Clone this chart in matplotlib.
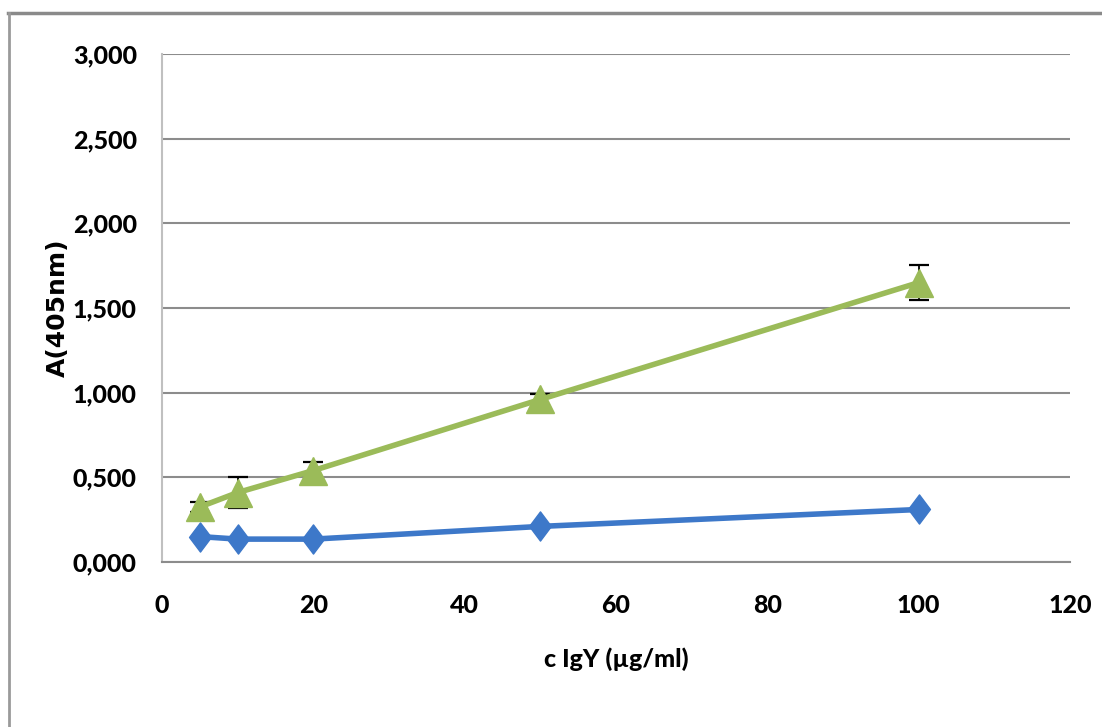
import matplotlib.pyplot as plt
from matplotlib.lines import Line2D
from matplotlib.path import Path
from matplotlib.ticker import FuncFormatter

# concentration of IgY (ug/ml)
conc = [5, 10, 20, 50, 100]
# absorbance, control (blue) and specific (green)
a_blue = [0.150, 0.135, 0.135, 0.210, 0.310]
a_green = [0.325, 0.410, 0.540, 0.960, 1.650]
err_green = [0.030, 0.090, 0.050, 0.030, 0.105]

x_ticks = [0, 20, 40, 60, 80, 100, 120]
y_ticks = [0, 0.5, 1.0, 1.5, 2.0, 2.5, 3.0]

blue = "#3d78c9"
green = "#9bbb59"
grid = "#8c8c8c"
tick_font = ["Lato", "DejaVu Sans"]

fig = plt.figure(figsize=(11.02, 7.27), dpi=100)
ax = fig.add_axes([0.147, 0.227, 0.824, 0.6987])

diamond = Path([(0, 1), (0.75, 0), (0, -1), (-0.75, 0), (0, 1)],
               [Path.MOVETO, Path.LINETO, Path.LINETO, Path.LINETO, Path.CLOSEPOLY])

ax.plot(conc, a_blue, color=blue, lw=4, marker=diamond, ms=21,
        mec=blue, mfc=blue, zorder=3)
ax.errorbar(conc, a_green, yerr=err_green, color=green, lw=4, marker="^",
            ms=20, mec=green, mfc=green, ecolor="black", elinewidth=1.3,
            capsize=7, capthick=1.6, zorder=4)

ax.set_xlim(0, 120)
ax.set_ylim(0, 3.0)
ax.set_xticks(x_ticks)
ax.set_yticks(y_ticks)
ax.yaxis.set_major_formatter(FuncFormatter(lambda v, p: ("%.3f" % v).replace(".", ",")))
ax.yaxis.grid(True, color=grid, lw=1.5)
ax.set_axisbelow(True)
ax.tick_params(axis="y", length=0, pad=18)
ax.tick_params(axis="x", length=0, pad=23)
for lab in ax.get_xticklabels() + ax.get_yticklabels():
    lab.set_family(tick_font)
    lab.set_fontsize(18)
    lab.set_fontweight("black")

for s in ["top", "right"]:
    ax.spines[s].set_visible(False)
ax.spines["left"].set_color("#c0c0c0")
ax.spines["left"].set_linewidth(1.5)
ax.spines["bottom"].set_color(grid)
ax.spines["bottom"].set_linewidth(1.5)

ax.set_xlabel("c IgY (µg/ml)", family=tick_font, fontsize=18,
              fontweight="black", labelpad=22)
ax.set_ylabel("A(405nm)", family="DejaVu Sans", fontsize=18,
              fontweight="bold")
ax.yaxis.set_label_coords(-0.101, 0.5)

# outer frame of the pasted chart
fig.add_artist(Line2D([8 / 1102, 1], [1 - 13 / 727, 1 - 13 / 727],
                      color="#8a8a8a", lw=2.5, transform=fig.transFigure))
fig.add_artist(Line2D([9 / 1102, 9 / 1102], [0, 1 - 13 / 727],
                      color="#9a9a9a", lw=2, transform=fig.transFigure))

fig.savefig("out.png", dpi=100)
